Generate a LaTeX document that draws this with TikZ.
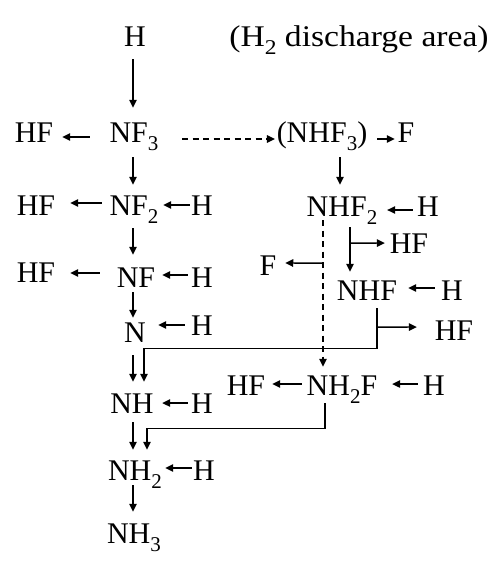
\documentclass[tikz,border=0pt]{standalone}
\usepackage{fontspec}
\setmainfont{Liberation Serif}
\usetikzlibrary{arrows.meta}
\newcommand\sbs[1]{\raisebox{-8pt}{\fontsize{21}{21}\selectfont #1}}
\begin{document}
\begin{tikzpicture}[x=1pt,y=-1pt,
  lbl/.style={inner sep=0pt, text height=20pt, text depth=0pt, anchor=base, font=\fontsize{30}{30}\selectfont},
  arr/.style={line width=1.4pt, -{Triangle[length=8pt,width=7.5pt]}},
  dsh/.style={dash pattern=on 6pt off 4.5pt}]
\useasboundingbox (0,0) rectangle (500,569);
% nodes
\node[lbl] (H0) at (135,47) {H};
\node[lbl] (area) at (359,47) {\scalebox{1.12}[1]{(H\sbs{2} discharge area)}};
\node[lbl] (HF1) at (34,143) {HF};
\node[lbl] (NF3) at (134,143) {NF\sbs{3}};
\node[lbl] (NHF3) at (322,143) {(NHF\sbs{3})};
\node[lbl] (F1) at (406,143) {F};
\node[lbl] (HF2) at (36,215) {HF};
\node[lbl] (NF2) at (134,215) {NF\sbs{2}};
\node[lbl] (H2) at (202,215) {H};
\node[lbl] (NHF2) at (342,216) {NHF\sbs{2}};
\node[lbl] (H3) at (428,216) {H};
\node[lbl] (HF3) at (409,253) {HF};
\node[lbl] (F2) at (268,275) {F};
\node[lbl] (HF4) at (36,282) {HF};
\node[lbl] (NF) at (136,287) {NF};
\node[lbl] (H4) at (202,287) {H};
\node[lbl] (NHF) at (367,300) {NHF};
\node[lbl] (H5) at (452,300) {H};
\node[lbl] (N) at (135,342) {N};
\node[lbl] (H6) at (202,335) {H};
\node[lbl] (HF5) at (454,340) {HF};
\node[lbl] (HF6) at (246,395) {HF};
\node[lbl] (NH2F) at (342,395) {NH\sbs{2}F};
\node[lbl] (H7) at (434,395) {H};
\node[lbl] (NH) at (132,413) {NH};
\node[lbl] (H8) at (202,413) {H};
\node[lbl] (NH2) at (135,480) {NH\sbs{2}};
\node[lbl] (H9) at (204,480) {H};
\node[lbl] (NH3) at (134,543) {NH\sbs{3}};
% arrows
\draw[arr] ([shift={(-2,12)}]H0.south) -- ([shift={(-1,-15)}]NF3.north);
\draw[arr] ([shift={(-19.6,4)}]NF3.west) -- ([shift={(8.8,4)}]HF1.east);
\draw[arr,dsh] ([shift={(23.6,6)}]NF3.east) -- ([shift={(-1.7,6)}]NHF3.west);
\draw[arr] ([shift={(9.7,6)}]NHF3.east) -- ([shift={(-2.7,6)}]F1.west);
\draw[arr] ([shift={(-1,14)}]NF3.south) -- ([shift={(-1,-10)}]NF2.north);
\draw[arr] ([shift={(18,14)}]NHF3.south) -- ([shift={(-2,-11)}]NHF2.north);
\draw[arr] ([shift={(-7.6,-2)}]NF2.west) -- ([shift={(14.8,-2)}]HF2.east);
\draw[arr] ([shift={(-1.2,0)}]H2.west) -- ([shift={(4.6,0)}]NF2.east);
\draw[arr] ([shift={(-4.2,4)}]H3.west) -- ([shift={(9.7,4)}]NHF2.east);
\draw[arr] ([shift={(-1,13)}]NF2.south) -- ([shift={(-3,-12)}]NF.north);
\draw[arr] ([shift={(-16.9,-4)}]NF.west) -- ([shift={(14.8,1)}]HF4.east);
\draw[arr] ([shift={(-3.2,-2)}]H4.west) -- ([shift={(6.8,-2)}]NF.east);
\draw[arr] ([shift={(-3,5)}]NF.south) -- ([shift={(-2,-4)}]N.north);
\draw[arr] ([shift={(-6.2,0)}]H6.west) -- ([shift={(12.2,-7)}]N.east);
% NHF2 -> NH2F dashed, with F branch
\draw[arr,dsh] ([shift={(-19,4)}]NHF2.south) -- ([shift={(-19,-8)}]NH2F.north);
\coordinate (fb) at ([shift={(-19,47)}]NHF2.south);
\draw[arr] (fb) -- ([shift={(8.7,-2)}]F2.east);
% NHF2 -> NHF with HF branch
\draw[arr] ([shift={(8,11)}]NHF2.south) -- ([shift={(-17,-8)}]NHF.north);
\coordinate (hb) at ([shift={(8,27)}]NHF2.south);
\draw[arr] (hb) -- ([shift={(-4.8,0)}]HF3.west);
\draw[arr] ([shift={(-6.2,-2)}]H5.west) -- ([shift={(11,-2)}]NHF.east);
% NHF -> NH with HF branch
\draw[arr] ([shift={(10,8)}]NHF.south) -- ++(0,40) -| ([shift={(12,-11)}]NH.north);
\coordinate (nb) at ([shift={(10,27)}]NHF.south);
\draw[arr] (nb) -- ([shift={(-17.8,-3)}]HF5.west);
\draw[arr] ([shift={(-2,13)}]N.south) -- ([shift={(1,-11)}]NH.north);
\draw[arr] ([shift={(-4.7,-1)}]NH2F.west) -- ([shift={(6.8,-1)}]HF6.east);
\draw[arr] ([shift={(-5.2,-1)}]H7.west) -- ([shift={(14.7,-1)}]NH2F.east);
\draw[arr] ([shift={(-3.2,0)}]H8.west) -- ([shift={(8.3,0)}]NH.east);
\draw[arr] ([shift={(1,9)}]NH.south) -- ([shift={(-2,-10)}]NH2.north);
\draw[arr] ([shift={(-17,8)}]NH2F.south) -- ++(0,25) -| ([shift={(12,-10)}]NH2.north);
\draw[arr] ([shift={(-1.2,-2)}]H9.west) -- ([shift={(3.1,-2)}]NH2.east);
\draw[arr] ([shift={(-2,5)}]NH2.south) -- ([shift={(-1,-11)}]NH3.north);
\end{tikzpicture}
\end{document}
